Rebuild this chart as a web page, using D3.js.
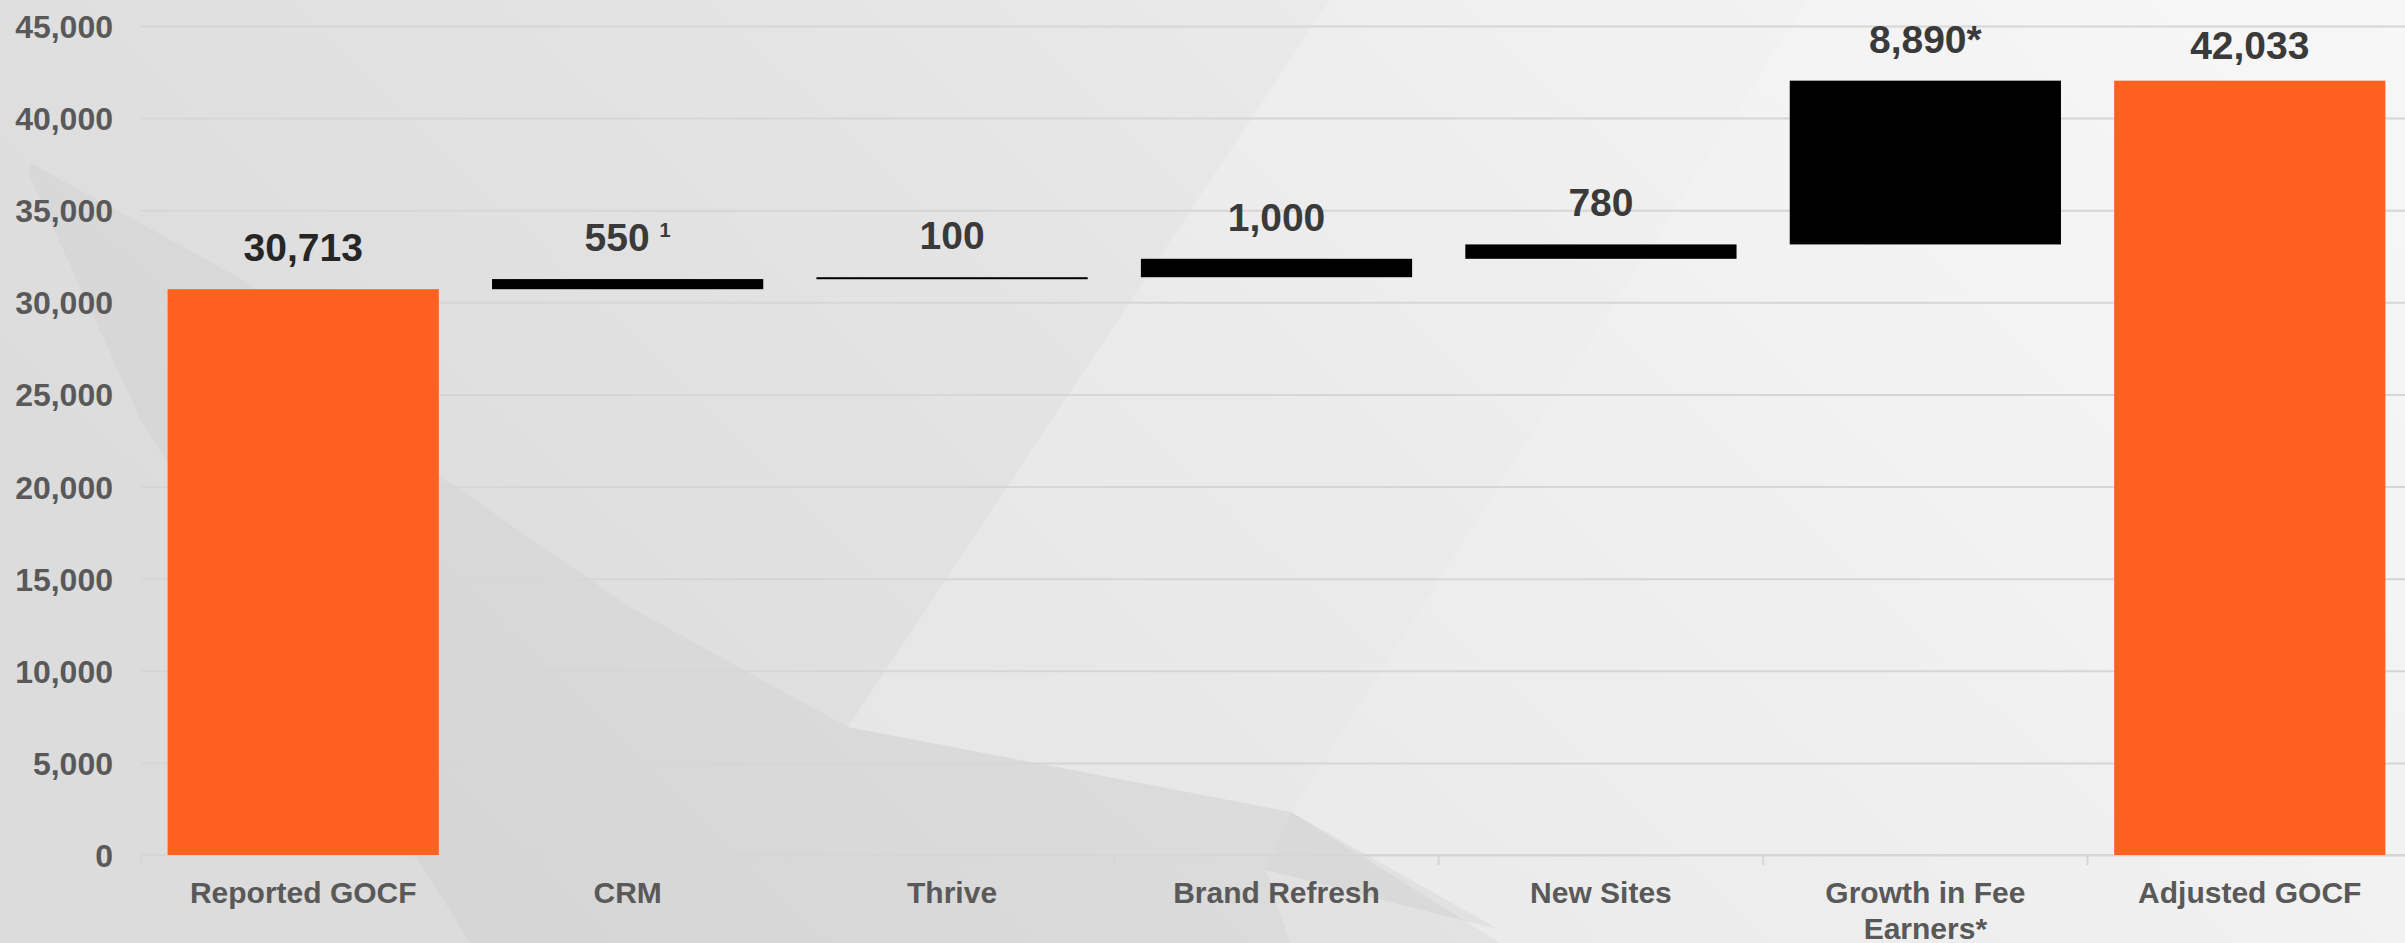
<!DOCTYPE html>
<html>
<head>
<meta charset="utf-8">
<script src="https://cdn.jsdelivr.net/npm/d3@7"></script>
<style>
  html, body { margin: 0; padding: 0; overflow: hidden; background: #e6e6e6; }
  svg text { font-family: "Liberation Sans", Arial, sans-serif; font-weight: bold; }
</style>
</head>
<body>
<div id="chart"></div>
<script>
// Waterfall: reported -> adjusted GOCF
const categories = ["Reported GOCF", "CRM", "Thrive", "Brand Refresh", "New Sites", "Growth in Fee Earners*", "Adjusted GOCF"];
const categoryLines = [["Reported GOCF"], ["CRM"], ["Thrive"], ["Brand Refresh"], ["New Sites"], ["Growth in Fee", "Earners*"], ["Adjusted GOCF"]];
const values = [30713, 550, 100, 1000, 780, 8890, 42033];
const kinds = ["total", "delta", "delta", "delta", "delta", "delta", "total"];
const valueLabels = ["30,713", "550", "100", "1,000", "780", "8,890*", "42,033"];
const labelNotes = ["", "1", "", "", "", "", ""];
const yTicks = [0, 5000, 10000, 15000, 20000, 25000, 30000, 35000, 40000, 45000];

const ORANGE = "#ff6220";
const TEXT_GREY = "#595959";
const LABEL_DARK = "#3a3a3a";
const GRID = "#d6d6d6";

const W = 2405, H = 943;
const margin = { top: 26, right: -7, bottom: 88, left: 141 };

// running totals for the floating bars
let run = 0;
const bars = values.map((v, i) => {
  let y0, y1;
  if (kinds[i] === "total") { y0 = 0; y1 = v; run = v; }
  else { y0 = run; y1 = run + v; run = y1; }
  return { cat: categories[i], y0, y1, kind: kinds[i], label: valueLabels[i], note: labelNotes[i], lines: categoryLines[i] };
});

const svg = d3.select("#chart").append("svg")
  .attr("width", W).attr("height", H);

// background
const defs = svg.append("defs");
const bg = defs.append("linearGradient").attr("id", "bg").attr("x1", 0).attr("x2", 1).attr("y1", 0.4).attr("y2", 0);
bg.append("stop").attr("offset", 0).attr("stop-color", "#dcdcdc");
bg.append("stop").attr("offset", 0.4).attr("stop-color", "#e4e4e4");
bg.append("stop").attr("offset", 0.7).attr("stop-color", "#ededed");
bg.append("stop").attr("offset", 1).attr("stop-color", "#f4f4f4");
svg.append("rect").attr("width", W).attr("height", H).attr("fill", "url(#bg)");

// faint folded shapes behind the chart
const shapes = [
  { pts: [[1330, 0], [1807, 0], [1291, 812], [848, 727]], fill: "#ffffff", op: 0.22 },
  { pts: [[1807, 0], [W, 0], [W, H], [1500, 943], [1291, 812]], fill: "#ffffff", op: 0.3 },
  { pts: [[29, 162], [249, 283], [439, 475], [630, 607], [848, 727], [1291, 812], [1266, 870], [1290, 943], [470, 943], [141, 421], [29, 175]], fill: "#000000", op: 0.022 },
  { pts: [[1291, 812], [1500, 930], [1266, 870]], fill: "#000000", op: 0.04 }
];
svg.append("g").selectAll("polygon").data(shapes).join("polygon")
  .attr("points", d => d.pts.map(p => p.join(",")).join(" "))
  .attr("fill", d => d.fill).attr("opacity", d => d.op);

const iw = W - margin.left - margin.right;
const ih = H - margin.top - margin.bottom;
const g = svg.append("g").attr("transform", `translate(${margin.left},${margin.top})`);

const x = d3.scaleBand().domain(categories).range([0, iw]).paddingInner(0.164).paddingOuter(0.082);
const y = d3.scaleLinear().domain([0, 45000]).range([ih, 0]);

// y axis + gridlines
const yAxis = g.append("g").call(d3.axisLeft(y).tickValues(yTicks).tickSize(-iw).tickPadding(28).tickFormat(d3.format(",")));
yAxis.select(".domain").remove();
yAxis.selectAll(".tick line").attr("stroke", GRID).attr("stroke-width", 2);
yAxis.selectAll(".tick text").attr("fill", TEXT_GREY).attr("font-size", 32).attr("dy", "0.36em");

// x axis line and boundary ticks
g.append("line").attr("x1", 0).attr("x2", iw).attr("y1", ih).attr("y2", ih)
  .attr("stroke", GRID).attr("stroke-width", 2);
const step = x.step();
g.append("g").selectAll("line").data(d3.range(categories.length + 1)).join("line")
  .attr("x1", i => x.range()[0] + i * step).attr("x2", i => x.range()[0] + i * step)
  .attr("y1", ih).attr("y2", ih + 10)
  .attr("stroke", GRID).attr("stroke-width", 2);

// bars
g.append("g").selectAll("rect").data(bars).join("rect")
  .attr("x", d => x(d.cat))
  .attr("width", x.bandwidth())
  .attr("y", d => y(d.y1))
  .attr("height", d => Math.max(2, y(d.y0) - y(d.y1)))
  .attr("fill", d => d.kind === "total" ? ORANGE : "#000");

// value labels
const vl = g.append("g").selectAll("text").data(bars).join("text")
  .attr("x", d => x(d.cat) + x.bandwidth() / 2)
  .attr("y", (d, i) => y(d.y1) - (i === bars.length - 1 ? 22 : 28))
  .attr("text-anchor", "middle")
  .attr("font-size", 39)
  .attr("fill", (d, i) => i === 0 ? "#262626" : LABEL_DARK);
vl.append("tspan").text(d => d.label);
vl.filter(d => d.note).append("tspan")
  .attr("font-size", 20).attr("dx", 10).attr("dy", -14)
  .text(d => d.note);

// category labels
const cl = g.append("g").selectAll("text").data(bars).join("text")
  .attr("x", d => x(d.cat) + x.bandwidth() / 2)
  .attr("y", ih + 48)
  .attr("text-anchor", "middle")
  .attr("font-size", 30)
  .attr("fill", TEXT_GREY);
cl.selectAll("tspan").data(d => d.lines.map(t => ({ t, cx: x(d.cat) + x.bandwidth() / 2 }))).join("tspan")
  .attr("x", d => d.cx)
  .attr("dy", (d, i) => i === 0 ? 0 : 36)
  .text(d => d.t);
</script>
</body>
</html>
